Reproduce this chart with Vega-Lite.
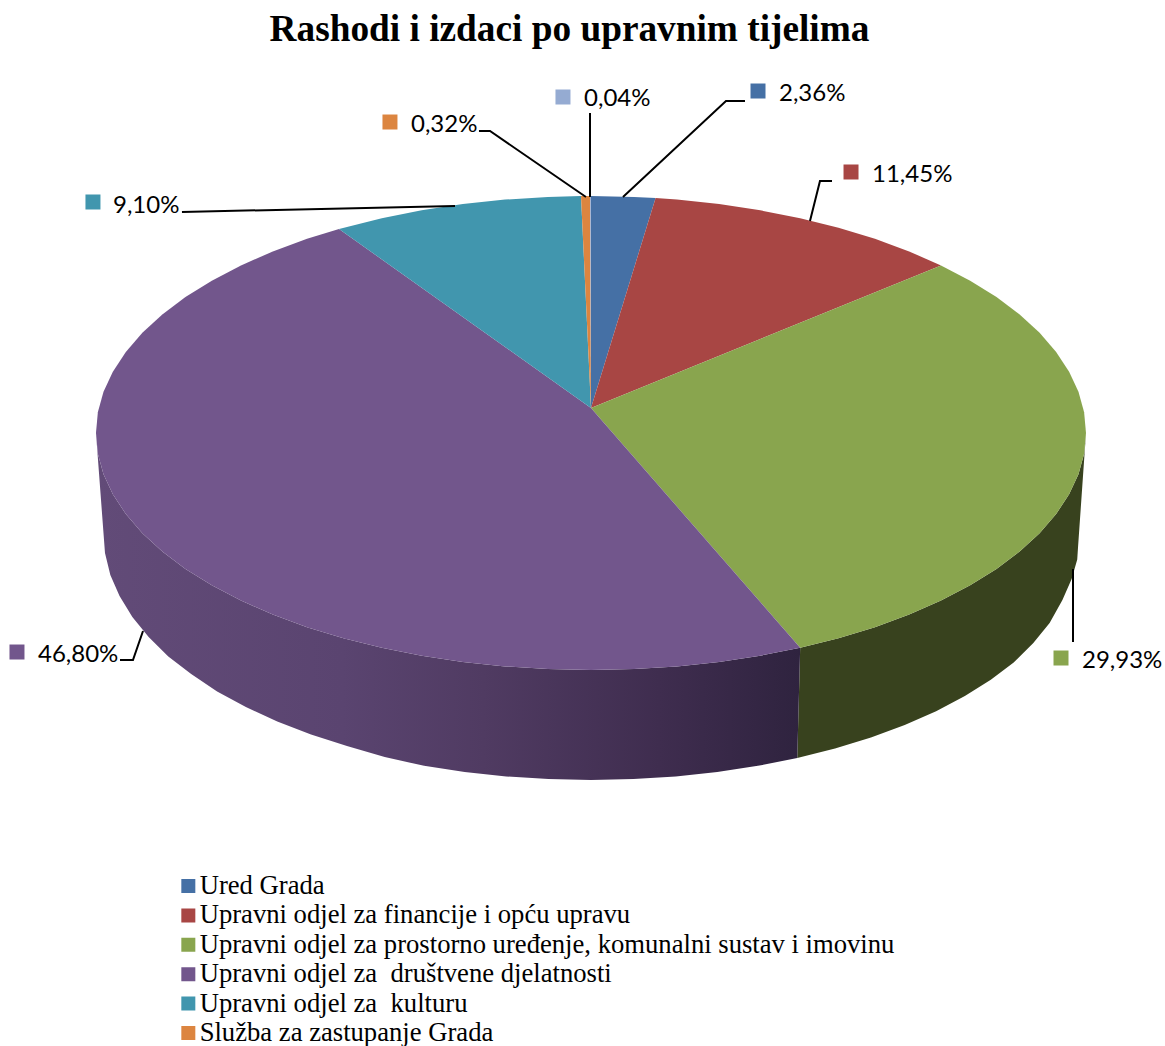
{
"$schema":"https://vega.github.io/schema/vega-lite/v6.json",
"width":1165,"height":1046,"padding":0,"autosize":{"type":"none"},
"background":"white",
"title":{"text":"Rashodi i izdaci po upravnim tijelima","font":"Liberation Serif","fontSize":37.3,"fontWeight":"bold","color":"#000000","anchor":"middle","offset":-49,"dx":-13},
"config":{"view":{"stroke":null}},
"datasets":{
"slices":[
{"slice":"Ured Grada","i":1,"u":0,"v":10.55},{"slice":"Ured Grada","i":2,"u":0,"v":100},{"slice":"Ured Grada","i":3,"u":8.72,"v":99.62},{"slice":"Ured Grada","i":4,"u":13.05,"v":99.14},
{"slice":"Upravni odjel za financije i opću upravu","i":1,"u":0,"v":10.55},{"slice":"Upravni odjel za financije i opću upravu","i":2,"u":13.05,"v":99.14},{"slice":"Upravni odjel za financije i opću upravu","i":3,"u":17.36,"v":98.48},{"slice":"Upravni odjel za financije i opću upravu","i":4,"u":25.88,"v":96.59},{"slice":"Upravni odjel za financije i opću upravu","i":5,"u":34.2,"v":93.97},{"slice":"Upravni odjel za financije i opću upravu","i":6,"u":42.26,"v":90.63},{"slice":"Upravni odjel za financije i opću upravu","i":7,"u":50,"v":86.6},{"slice":"Upravni odjel za financije i opću upravu","i":8,"u":57.36,"v":81.92},{"slice":"Upravni odjel za financije i opću upravu","i":9,"u":64.28,"v":76.6},{"slice":"Upravni odjel za financije i opću upravu","i":10,"u":70.71,"v":70.71},
{"slice":"Upravni odjel za prostorno uređenje, komunalni sustav i imovinu","i":1,"u":0,"v":10.55},{"slice":"Upravni odjel za prostorno uređenje, komunalni sustav i imovinu","i":2,"u":70.71,"v":70.71},{"slice":"Upravni odjel za prostorno uređenje, komunalni sustav i imovinu","i":3,"u":76.6,"v":64.28},{"slice":"Upravni odjel za prostorno uređenje, komunalni sustav i imovinu","i":4,"u":81.92,"v":57.36},{"slice":"Upravni odjel za prostorno uređenje, komunalni sustav i imovinu","i":5,"u":86.6,"v":50},{"slice":"Upravni odjel za prostorno uređenje, komunalni sustav i imovinu","i":6,"u":90.63,"v":42.26},{"slice":"Upravni odjel za prostorno uređenje, komunalni sustav i imovinu","i":7,"u":93.97,"v":34.2},{"slice":"Upravni odjel za prostorno uređenje, komunalni sustav i imovinu","i":8,"u":96.59,"v":25.88},{"slice":"Upravni odjel za prostorno uređenje, komunalni sustav i imovinu","i":9,"u":98.48,"v":17.36},{"slice":"Upravni odjel za prostorno uređenje, komunalni sustav i imovinu","i":10,"u":99.62,"v":8.72},{"slice":"Upravni odjel za prostorno uređenje, komunalni sustav i imovinu","i":11,"u":100,"v":0},{"slice":"Upravni odjel za prostorno uređenje, komunalni sustav i imovinu","i":12,"u":99.62,"v":-8.72},{"slice":"Upravni odjel za prostorno uređenje, komunalni sustav i imovinu","i":13,"u":98.48,"v":-17.36},{"slice":"Upravni odjel za prostorno uređenje, komunalni sustav i imovinu","i":14,"u":96.59,"v":-25.88},{"slice":"Upravni odjel za prostorno uređenje, komunalni sustav i imovinu","i":15,"u":93.97,"v":-34.2},{"slice":"Upravni odjel za prostorno uređenje, komunalni sustav i imovinu","i":16,"u":90.63,"v":-42.26},{"slice":"Upravni odjel za prostorno uređenje, komunalni sustav i imovinu","i":17,"u":86.6,"v":-50},{"slice":"Upravni odjel za prostorno uređenje, komunalni sustav i imovinu","i":18,"u":81.92,"v":-57.36},{"slice":"Upravni odjel za prostorno uređenje, komunalni sustav i imovinu","i":19,"u":76.6,"v":-64.28},{"slice":"Upravni odjel za prostorno uređenje, komunalni sustav i imovinu","i":20,"u":70.71,"v":-70.71},{"slice":"Upravni odjel za prostorno uređenje, komunalni sustav i imovinu","i":21,"u":64.28,"v":-76.6},{"slice":"Upravni odjel za prostorno uređenje, komunalni sustav i imovinu","i":22,"u":57.36,"v":-81.92},{"slice":"Upravni odjel za prostorno uređenje, komunalni sustav i imovinu","i":23,"u":50,"v":-86.6},{"slice":"Upravni odjel za prostorno uređenje, komunalni sustav i imovinu","i":24,"u":42.26,"v":-90.63},
{"slice":"Upravni odjel za  društvene djelatnosti","i":1,"u":0,"v":10.55},{"slice":"Upravni odjel za  društvene djelatnosti","i":2,"u":42.26,"v":-90.63},{"slice":"Upravni odjel za  društvene djelatnosti","i":3,"u":34.2,"v":-93.97},{"slice":"Upravni odjel za  društvene djelatnosti","i":4,"u":25.88,"v":-96.59},{"slice":"Upravni odjel za  društvene djelatnosti","i":5,"u":17.36,"v":-98.48},{"slice":"Upravni odjel za  društvene djelatnosti","i":6,"u":8.72,"v":-99.62},{"slice":"Upravni odjel za  društvene djelatnosti","i":7,"u":0,"v":-100},{"slice":"Upravni odjel za  društvene djelatnosti","i":8,"u":-8.72,"v":-99.62},{"slice":"Upravni odjel za  društvene djelatnosti","i":9,"u":-17.36,"v":-98.48},{"slice":"Upravni odjel za  društvene djelatnosti","i":10,"u":-25.88,"v":-96.59},{"slice":"Upravni odjel za  društvene djelatnosti","i":11,"u":-34.2,"v":-93.97},{"slice":"Upravni odjel za  društvene djelatnosti","i":12,"u":-42.26,"v":-90.63},{"slice":"Upravni odjel za  društvene djelatnosti","i":13,"u":-50,"v":-86.6},{"slice":"Upravni odjel za  društvene djelatnosti","i":14,"u":-57.36,"v":-81.92},{"slice":"Upravni odjel za  društvene djelatnosti","i":15,"u":-64.28,"v":-76.6},{"slice":"Upravni odjel za  društvene djelatnosti","i":16,"u":-70.71,"v":-70.71},{"slice":"Upravni odjel za  društvene djelatnosti","i":17,"u":-76.6,"v":-64.28},{"slice":"Upravni odjel za  društvene djelatnosti","i":18,"u":-81.92,"v":-57.36},{"slice":"Upravni odjel za  društvene djelatnosti","i":19,"u":-86.6,"v":-50},{"slice":"Upravni odjel za  društvene djelatnosti","i":20,"u":-90.63,"v":-42.26},{"slice":"Upravni odjel za  društvene djelatnosti","i":21,"u":-93.97,"v":-34.2},{"slice":"Upravni odjel za  društvene djelatnosti","i":22,"u":-96.59,"v":-25.88},{"slice":"Upravni odjel za  društvene djelatnosti","i":23,"u":-98.48,"v":-17.36},{"slice":"Upravni odjel za  društvene djelatnosti","i":24,"u":-99.62,"v":-8.72},{"slice":"Upravni odjel za  društvene djelatnosti","i":25,"u":-100,"v":0},{"slice":"Upravni odjel za  društvene djelatnosti","i":26,"u":-99.62,"v":8.72},{"slice":"Upravni odjel za  društvene djelatnosti","i":27,"u":-98.48,"v":17.36},{"slice":"Upravni odjel za  društvene djelatnosti","i":28,"u":-96.59,"v":25.88},{"slice":"Upravni odjel za  društvene djelatnosti","i":29,"u":-93.97,"v":34.2},{"slice":"Upravni odjel za  društvene djelatnosti","i":30,"u":-90.63,"v":42.26},{"slice":"Upravni odjel za  društvene djelatnosti","i":31,"u":-86.6,"v":50},{"slice":"Upravni odjel za  društvene djelatnosti","i":32,"u":-81.92,"v":57.36},{"slice":"Upravni odjel za  društvene djelatnosti","i":33,"u":-76.6,"v":64.28},{"slice":"Upravni odjel za  društvene djelatnosti","i":34,"u":-70.71,"v":70.71},{"slice":"Upravni odjel za  društvene djelatnosti","i":35,"u":-64.28,"v":76.6},{"slice":"Upravni odjel za  društvene djelatnosti","i":36,"u":-57.36,"v":81.92},{"slice":"Upravni odjel za  društvene djelatnosti","i":37,"u":-50.9,"v":86.07},
{"slice":"Upravni odjel za  kulturu","i":1,"u":0,"v":10.55},{"slice":"Upravni odjel za  kulturu","i":2,"u":-50.9,"v":86.07},{"slice":"Upravni odjel za  kulturu","i":3,"u":-42.26,"v":90.63},{"slice":"Upravni odjel za  kulturu","i":4,"u":-34.2,"v":93.97},{"slice":"Upravni odjel za  kulturu","i":5,"u":-25.88,"v":96.59},{"slice":"Upravni odjel za  kulturu","i":6,"u":-17.36,"v":98.48},{"slice":"Upravni odjel za  kulturu","i":7,"u":-8.72,"v":99.62},{"slice":"Upravni odjel za  kulturu","i":8,"u":-2.02,"v":99.98},
{"slice":"Služba za zastupanje Grada","i":1,"u":0,"v":10.55},{"slice":"Služba za zastupanje Grada","i":2,"u":-2.02,"v":99.98},{"slice":"Služba za zastupanje Grada","i":3,"u":-0.17,"v":100},
{"slice":"Ostalo","i":1,"u":0,"v":10.55},{"slice":"Ostalo","i":2,"u":-0.17,"v":100},{"slice":"Ostalo","i":3,"u":0,"v":100}
],
"wallGreen":[
{"i":1,"u":42.26,"v":-90.63},{"i":2,"u":50,"v":-86.6},{"i":3,"u":57.36,"v":-81.92},{"i":4,"u":64.28,"v":-76.6},{"i":5,"u":70.71,"v":-70.71},{"i":6,"u":76.6,"v":-64.28},{"i":7,"u":81.92,"v":-57.36},{"i":8,"u":86.6,"v":-50},{"i":9,"u":90.63,"v":-42.26},{"i":10,"u":93.97,"v":-34.2},{"i":11,"u":96.59,"v":-25.88},{"i":12,"u":98.48,"v":-17.36},{"i":13,"u":99.62,"v":-8.72},{"i":14,"u":100,"v":0},
{"i":15,"u":98.38,"v":-48.52},{"i":16,"u":98.23,"v":-53.38},{"i":17,"u":97.1,"v":-61.6},{"i":18,"u":95.24,"v":-70.46},{"i":19,"u":92.65,"v":-80.17},{"i":20,"u":89.36,"v":-88.6},{"i":21,"u":85.39,"v":-96.84},{"i":22,"u":80.77,"v":-104.14},{"i":23,"u":75.53,"v":-111},{"i":24,"u":69.72,"v":-117.38},{"i":25,"u":63.38,"v":-123.22},{"i":26,"u":56.56,"v":-128.49},{"i":27,"u":49.3,"v":-133.13},{"i":28,"u":41.67,"v":-137.13}
],
"wallPurple":[
{"i":1,"u":42.26,"v":-90.63},{"i":2,"u":34.2,"v":-93.97},{"i":3,"u":25.88,"v":-96.59},{"i":4,"u":17.36,"v":-98.48},{"i":5,"u":8.72,"v":-99.62},{"i":6,"u":0,"v":-100},{"i":7,"u":-8.72,"v":-99.62},{"i":8,"u":-17.36,"v":-98.48},{"i":9,"u":-25.88,"v":-96.59},{"i":10,"u":-34.2,"v":-93.97},{"i":11,"u":-42.26,"v":-90.63},{"i":12,"u":-50,"v":-86.6},{"i":13,"u":-57.36,"v":-81.92},{"i":14,"u":-64.28,"v":-76.6},{"i":15,"u":-70.71,"v":-70.71},{"i":16,"u":-76.6,"v":-64.28},{"i":17,"u":-81.92,"v":-57.36},{"i":18,"u":-86.6,"v":-50},{"i":19,"u":-90.63,"v":-42.26},{"i":20,"u":-93.97,"v":-34.2},{"i":21,"u":-96.59,"v":-25.88},{"i":22,"u":-98.48,"v":-17.36},{"i":23,"u":-99.62,"v":-8.72},{"i":24,"u":-100,"v":0},
{"i":25,"u":-98.18,"v":-50.63},{"i":26,"u":-97.1,"v":-59.92},{"i":27,"u":-95.24,"v":-68.78},{"i":28,"u":-92.65,"v":-77.64},{"i":29,"u":-89.36,"v":-86.08},{"i":30,"u":-85.39,"v":-94.3},{"i":31,"u":-80.77,"v":-101.69},{"i":32,"u":-75.53,"v":-109.07},{"i":33,"u":-69.72,"v":-115.61},{"i":34,"u":-63.38,"v":-121.73},{"i":35,"u":-56.56,"v":-127.22},{"i":36,"u":-49.3,"v":-132.07},{"i":38,"u":-41.67,"v":-136.71},{"i":39,"u":-33.72,"v":-140.44},{"i":40,"u":-25.52,"v":-143.04},{"i":41,"u":-17.12,"v":-144.91},{"i":42,"u":-8.6,"v":-146.04},{"i":43,"u":0,"v":-146.42},{"i":44,"u":8.6,"v":-146.04},{"i":45,"u":17.12,"v":-144.91},{"i":46,"u":25.52,"v":-143.04},{"i":47,"u":33.72,"v":-140.44},{"i":48,"u":41.67,"v":-137.13}
],
"leaders":[
{"slice":"Ured Grada","i":1,"u":6.46,"v":99.58},{"slice":"Ured Grada","i":2,"u":27.27,"v":140.08},{"slice":"Ured Grada","i":3,"u":31.11,"v":140.08},
{"slice":"Financije","i":1,"u":44.24,"v":89.45},{"slice":"Financije","i":2,"u":46.26,"v":106.33},{"slice":"Financije","i":3,"u":48.69,"v":106.33},
{"slice":"Prostorno","i":1,"u":97.37,"v":-57.38},{"slice":"Prostorno","i":2,"u":97.37,"v":-88.19},
{"slice":"Drustvene","i":1,"u":-90.5,"v":-83.54},{"slice":"Drustvene","i":2,"u":-92.53,"v":-95.78},{"slice":"Drustvene","i":3,"u":-95.15,"v":-95.78},
{"slice":"Kultura","i":1,"u":-27.47,"v":95.78},{"slice":"Kultura","i":2,"u":-82.63,"v":93.25},
{"slice":"Sluzba","i":1,"u":-1.01,"v":99.58},{"slice":"Sluzba","i":2,"u":-20.4,"v":127.43},{"slice":"Sluzba","i":3,"u":-22.63,"v":127.43},
{"slice":"Ostalo","i":1,"u":-0.2,"v":99.58},{"slice":"Ostalo","i":2,"u":-0.2,"v":135.02}
],
"labels":[
{"slice":"Ured Grada","label":"2,36%","u":37.98,"v":143.46,"su":33.74,"sv":144.3},
{"slice":"Upravni odjel za financije i opću upravu","label":"11,45%","u":56.77,"v":109.7,"su":52.53,"sv":110.13},
{"slice":"Upravni odjel za prostorno uređenje, komunalni sustav i imovinu","label":"29,93%","u":99.19,"v":-95.36,"su":94.95,"sv":-94.94},
{"slice":"Upravni odjel za  društvene djelatnosti","label":"46,80%","u":-111.72,"v":-92.83,"su":-115.96,"sv":-92.41},
{"slice":"Upravni odjel za  kulturu","label":"9,10%","u":-96.57,"v":96.62,"su":-100.61,"sv":97.47},
{"slice":"Služba za zastupanje Grada","label":"0,32%","u":-36.36,"v":130.8,"su":-40.61,"sv":131.22},
{"slice":"Ostalo","label":"0,04%","u":-1.41,"v":141.35,"su":-5.66,"sv":141.77}
]
},
"layer":[
{"data":{"name":"wallGreen"},"mark":{"type":"line","fill":"#38421e","stroke":null,"strokeWidth":0},
 "encoding":{"x":{"field":"u","type":"quantitative","scale":{"domain":[-119.39,115.96],"nice":false,"zero":false},"axis":null},
 "y":{"field":"v","type":"quantitative","scale":{"domain":[-258.65,182.7],"nice":false,"zero":false},"axis":null},
 "order":{"field":"i","type":"quantitative"}}},
{"data":{"name":"wallPurple"},"mark":{"type":"line","stroke":null,"strokeWidth":0,"fill":{"gradient":"linear","x1":0,"y1":0,"x2":1,"y2":0,"stops":[{"offset":0,"color":"#624b78"},{"offset":0.35,"color":"#5a4470"},{"offset":0.55,"color":"#503b62"},{"offset":0.8,"color":"#3f2d4f"},{"offset":1,"color":"#2f233f"}]}},
 "encoding":{"x":{"field":"u","type":"quantitative"},"y":{"field":"v","type":"quantitative"},"order":{"field":"i","type":"quantitative"}}},
{"data":{"name":"slices"},"mark":{"type":"line","strokeWidth":0},
 "encoding":{"x":{"field":"u","type":"quantitative"},"y":{"field":"v","type":"quantitative"},"order":{"field":"i","type":"quantitative"},
 "detail":{"field":"slice"},
 "fill":{"field":"slice","type":"nominal","scale":{"domain":["Ured Grada","Upravni odjel za financije i opću upravu","Upravni odjel za prostorno uređenje, komunalni sustav i imovinu","Upravni odjel za  društvene djelatnosti","Upravni odjel za  kulturu","Služba za zastupanje Grada","Ostalo"],"range":["#4570a5","#a84644","#89a54e","#72568c","#4196ae","#dc8540","#95abd2"]},
 "legend":{"values":["Ured Grada","Upravni odjel za financije i opću upravu","Upravni odjel za prostorno uređenje, komunalni sustav i imovinu","Upravni odjel za  društvene djelatnosti","Upravni odjel za  kulturu","Služba za zastupanje Grada"],"title":null,"orient":"none","legendX":175,"legendY":873,"symbolType":"square","symbolSize":196,"symbolStrokeWidth":0,"labelFont":"Liberation Serif","labelFontSize":26.65,"labelColor":"#000000","labelLimit":900,"labelOffset":-2,"rowPadding":2.4,"clipHeight":26,"labelExpr":"replace(datum.label,'  ',' \u00a0')"}}}},
{"data":{"name":"leaders"},"mark":{"type":"line","color":"#000000","strokeWidth":2},
 "encoding":{"x":{"field":"u","type":"quantitative"},"y":{"field":"v","type":"quantitative"},"order":{"field":"i","type":"quantitative"},"detail":{"field":"slice"}}},
{"data":{"name":"labels"},"mark":{"type":"point","shape":"square","filled":true,"size":225,"opacity":1,"strokeWidth":0},
 "encoding":{"x":{"field":"su","type":"quantitative"},"y":{"field":"sv","type":"quantitative"},"fill":{"field":"slice","type":"nominal","legend":null}}},
{"data":{"name":"labels"},"mark":{"type":"text","align":"left","baseline":"middle","font":"Lato","fontSize":24,"dy":1.5,"color":"#000000"},
 "encoding":{"x":{"field":"u","type":"quantitative"},"y":{"field":"v","type":"quantitative"},"text":{"field":"label"}}}
]
}
